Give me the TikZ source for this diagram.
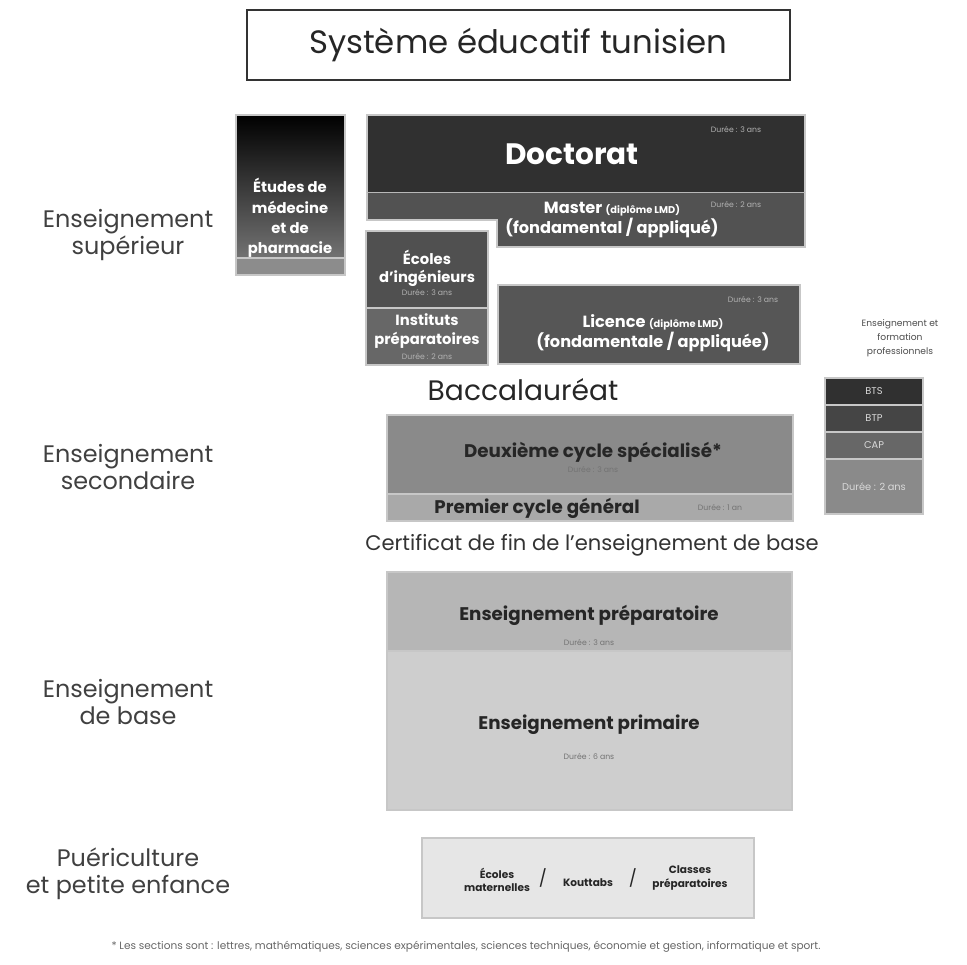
\documentclass[tikz,border=0pt]{standalone}
\usepackage{fontspec}
\setmainfont{Poppins}
\usetikzlibrary{fit,positioning}
\definecolor{gdoc}{HTML}{303030}
\definecolor{gmas}{HTML}{525252}
\definecolor{ging}{HTML}{505050}
\definecolor{ginst}{HTML}{676767}
\definecolor{glic}{HTML}{565656}
\definecolor{gdeux}{HTML}{8A8A8A}
\definecolor{gprem}{HTML}{A9A9A9}
\definecolor{gprep}{HTML}{B6B6B6}
\definecolor{gprim}{HTML}{CECECE}
\definecolor{gpuer}{HTML}{E6E6E6}
\tikzset{
    bloc/.style={draw=black!22, line width=0.8pt, inner sep=0pt},
    niveau/.style={font=\fontsize{17}{19}\selectfont, text=black!75, align=center},
    blanc/.style={text=white, align=center},
    sombre/.style={text=black!85, align=center},
    titreb/.style={font=\bfseries\fontsize{13}{15}\selectfont},
    duree/.style={font=\fontsize{5.5}{6.5}\selectfont},
}
\begin{document}
\begin{tikzpicture}[x=0.025cm,y=-0.025cm]
    \useasboundingbox (0,0) rectangle (967,965);
    \node[draw=black!80, line width=1.2pt, inner sep=0pt, fit={(247,10) (790,80)}] (titre) {};
    \node[font=\fontsize{23}{26}\selectfont, text=black!85] (titretxt) at (518,45) {Système éducatif tunisien};

    \node[niveau] (sup) at (128,235) {Enseignement\\supérieur};
    \node[niveau] (sec) at (128,467) {Enseignement\\secondaire};
    \node[niveau] (base) at (128,702) {Enseignement\\de base};
    \node[niveau] (puer) at (128,874) {Puériculture\\et petite enfance};

    \node[bloc, top color=black, bottom color=black!55, fit={(236,115) (345,258)}] (medecine) {};
    \node[bloc, fill=black!45, fit={(236,258) (345,275)}] (medbas) {};
    \node[blanc, font=\bfseries\fontsize{10.5}{14.5}\selectfont] (medtxt) at (290,218) {Études de\\médecine\\et de\\pharmacie};

    \node[bloc, fill=gdoc, fit={(367,115) (805,193)}] (doctorat) {};
    \node[blanc, font=\bfseries\fontsize{21}{24}\selectfont] (doctxt) at (572,154) {Doctorat};
    \node[blanc, duree, text=black!30] (docduree) at (736,130) {Durée : 3 ans};
    \fill[gmas] (367,193) rectangle (805,220) (497,220) rectangle (805,247);
    \node[bloc, draw=none, fit={(497,193) (805,247)}] (master) {};
    \draw[black!22, line width=0.8pt] (367,193) -- (367,220) -- (497,220) -- (497,247) -- (805,247) -- (805,193);
    \node[blanc, font=\bfseries\fontsize{11.5}{14}\selectfont] (mastxt) at (612,220) {Master {\fontsize{7}{8}\selectfont(diplôme LMD)}\\(fondamental / appliqué)};
    \node[blanc, duree, text=black!30] (masduree) at (736,205) {Durée : 2 ans};

    \node[bloc, fill=ging, fit={(366,231) (488,308)}] (ecoles) {};
    \node[blanc, font=\bfseries\fontsize{10.5}{13}\selectfont] (ecotxt) at (427,268) {Écoles\\d'ingénieurs};
    \node[blanc, duree, text=black!30] (ecoduree) at (427,293) {Durée : 3 ans};
    \node[bloc, fill=ginst, fit={(366,308) (488,365)}] (instituts) {};
    \node[blanc, font=\bfseries\fontsize{10.5}{13}\selectfont] (insttxt) at (427,331) {Instituts\\préparatoires};
    \node[blanc, duree, text=black!30] (instduree) at (427,357) {Durée : 2 ans};

    \node[bloc, fill=glic, fit={(498,285) (800,364)}] (licence) {};
    \node[blanc, font=\bfseries\fontsize{11.5}{14}\selectfont] (lictxt) at (653,333) {Licence {\fontsize{7}{8}\selectfont(diplôme LMD)}\\(fondamentale / appliquée)};
    \node[blanc, duree, text=black!30] (licduree) at (753,300) {Durée : 3 ans};

    \node[font=\fontsize{20}{24}\selectfont, text=black!85] (bac) at (523,390) {Baccalauréat};

    \node[bloc, fill=gdeux, fit={(387,415) (793,494)}] (deuxieme) {};
    \node[sombre, titreb] (deuxtxt) at (593,452) {Deuxième cycle spécialisé*};
    \node[duree, text=black!55] (deuxduree) at (593,470) {Durée : 3 ans};
    \node[bloc, fill=gprem, fit={(387,494) (793,521)}] (premier) {};
    \node[sombre, titreb] (premtxt) at (537,508) {Premier cycle général};
    \node[duree, text=black!55] (premduree) at (720,508) {Durée : 1 an};

    \node[font=\fontsize{15}{18}\selectfont, text=black!80] (certif) at (592,545) {Certificat de fin de l'enseignement de base};

    \node[bloc, fill=gprep, fit={(387,572) (792,651)}] (prepa) {};
    \node[sombre, titreb] (preptxt) at (589,615) {Enseignement préparatoire};
    \node[duree, text=black!55] (prepduree) at (589,643) {Durée : 3 ans};
    \node[bloc, fill=gprim, fit={(387,651) (792,810)}] (primaire) {};
    \node[sombre, titreb] (primtxt) at (589,725) {Enseignement primaire};
    \node[duree, text=black!55] (primduree) at (589,757) {Durée : 6 ans};

    \node[bloc, fill=gpuer, fit={(422,838) (754,918)}] (creche) {};
    \node[sombre, font=\bfseries\fontsize{7.5}{9.5}\selectfont] (mater) at (497,880) {Écoles\\maternelles};
    \node[sombre, font=\fontsize{12}{12}\selectfont] (sepa) at (543,878) {/};
    \node[sombre, font=\bfseries\fontsize{7.5}{9.5}\selectfont] (kout) at (588,883) {Kouttabs};
    \node[sombre, font=\fontsize{12}{12}\selectfont] (sepb) at (633,878) {/};
    \node[sombre, font=\bfseries\fontsize{7.5}{9.5}\selectfont] (classes) at (690,878) {Classes\\préparatoires};

    \node[sombre, font=\fontsize{6.5}{10}\selectfont, text=black!70] (protxt) at (900,338) {Enseignement et\\formation\\professionnels};
    \node[bloc, fill=gdoc, fit={(825,378) (923,405)}] (bts) {};
    \node[blanc, font=\fontsize{7}{8}\selectfont, text=black!15] at (bts.center) (btstxt) {BTS};
    \node[bloc, fill=gdoc!90!white, fit={(825,405) (923,432)}] (btp) {};
    \node[blanc, font=\fontsize{7}{8}\selectfont, text=black!15] at (btp.center) (btptxt) {BTP};
    \node[bloc, fill=ginst, fit={(825,432) (923,459)}] (cap) {};
    \node[blanc, font=\fontsize{7}{8}\selectfont, text=black!15] at (cap.center) (captxt) {CAP};
    \node[bloc, fill=gdeux, fit={(825,459) (923,514)}] (produree) {};
    \node[blanc, font=\fontsize{7}{8}\selectfont, text=black!15] at (produree.center) (produreetxt) {Durée : 2 ans};

    \node[font=\fontsize{7.5}{9}\selectfont, text=black!60] (note) at (466,947) {* Les sections sont : lettres, mathématiques, sciences expérimentales, sciences techniques, économie et gestion, informatique et sport.};
\end{tikzpicture}
\end{document}
